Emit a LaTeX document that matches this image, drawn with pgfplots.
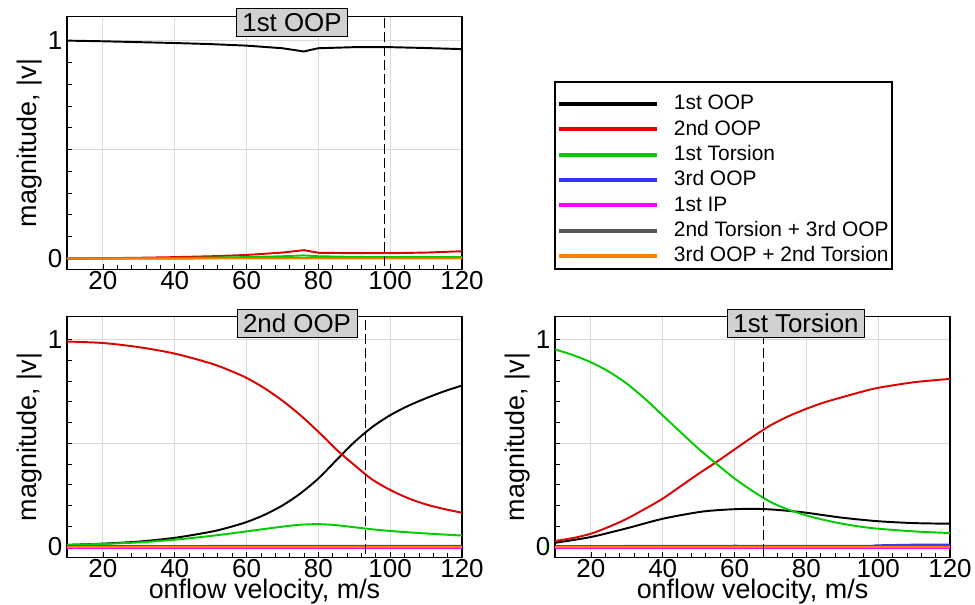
\documentclass[border=0pt]{standalone}
\usepackage{pgfplots}
\pgfplotsset{compat=1.18}
\usepackage{fontspec}
\setmainfont{Liberation Sans}
\definecolor{cred}{RGB}{220,0,0}
\definecolor{cgreen}{RGB}{0,204,0}
\definecolor{cblue}{RGB}{51,51,255}
\definecolor{cmag}{RGB}{255,0,255}
\definecolor{cgray}{RGB}{85,85,85}
\definecolor{corange}{RGB}{255,128,0}
\pgfplotsset{
  panel/.style={
    scale only axis, width=296.25pt,
    xmin=10, xmax=120, ymin=-0.05, ymax=1.11,
    xtick={20,40,...,120}, ytick={0,0.5,1}, yticklabels={0,,1},
    minor x tick num=4, minor y tick num=4,
    tick align=inside, tick pos=left,
    major tick length=4pt, minor tick length=3.5pt,
    every tick/.style={black, line width=0.6pt},
    grid=major, major grid style={draw=black!15, line width=0.8pt},
    axis line style={line width=0.8pt},
    tick label style={font=\fontsize{19.5}{22}\selectfont},
    label style={font=\fontsize{20.2}{23}\selectfont},
    /pgf/number format/assume math mode=true,
    xticklabel style={anchor=base, yshift=-15pt, inner ysep=0pt},
    ylabel={magnitude, |v|},
    ylabel style={at={([xshift=-23pt]axis description cs:0,0.5)}, anchor=base},
    xlabel style={at={([yshift=-31pt]axis description cs:0.5,0)}, anchor=base, inner ysep=0pt},
    every axis plot/.append style={line width=1.45pt},
  },
}
\tikzset{
  tbox/.style={draw=black, fill=black!18, line width=0.6pt, inner xsep=4.5pt, inner ysep=0pt,
    minimum height=21pt, text height=13.9pt, text depth=0pt, font=\fontsize{19.4}{22}\selectfont},
  vline/.style={black, line width=1pt, dash pattern=on 7.5pt off 3pt},
}
\begin{document}
\begin{tikzpicture}
\useasboundingbox (0,0) rectangle (731.25pt,-453.75pt);
% ---------------- top left: 1st OOP
\begin{axis}[panel, height=189.5pt, at={(50.25pt,-12.5pt)}, anchor=north west,
  legend cell align=left,
  legend image code/.code={\draw[#1, line width=3pt] (0pt,0pt) -- (73.5pt,0pt);},
  legend style={at={(1.2354,0.695)}, anchor=north west, draw=none, fill=none,
    font=\fontsize{15.7}{18}\selectfont, inner xsep=1.5pt, inner ysep=0pt,
    row sep=4pt, column sep=11pt,
    nodes={inner sep=0pt, text height=12pt, text depth=3pt}},
]
\addplot[black] coordinates {(10,1.0)(20,0.997)(30,0.993)(40,0.989)(50,0.984)(60,0.977)(70,0.965)(76,0.95)(78,0.958)(80,0.965)(90,0.97)(100,0.97)(110,0.966)(120,0.961)};
\addlegendentry{1st OOP}
\addplot[cred] coordinates {(10,0)(20,0.001)(30,0.003)(40,0.006)(50,0.01)(60,0.016)(70,0.027)(76,0.038)(78,0.032)(80,0.026)(90,0.024)(100,0.024)(110,0.027)(120,0.033)};
\addlegendentry{2nd OOP}
\addplot[cgreen] coordinates {(10,0)(40,0.002)(60,0.006)(70,0.01)(76,0.014)(80,0.01)(90,0.007)(100,0.006)(120,0.006)};
\addlegendentry{1st Torsion}
\addplot[cblue] coordinates {(10,0)(60,0.001)(120,0.001)};
\addlegendentry{3rd OOP}
\addplot[cmag] coordinates {(10,0)(60,0)(120,0)};
\addlegendentry{1st IP}
\addplot[cgray] coordinates {(10,0.001)(60,0.002)(120,0.002)};
\addlegendentry{2nd Torsion + 3rd OOP}
\addplot[corange] coordinates {(10,0)(60,0.001)(120,0.001)};
\addlegendentry{3rd OOP + 2nd Torsion}
\addplot[forget plot, vline] coordinates {(98.5,-0.1)(98.5,1.2)};
\end{axis}
% legend frame
\draw[black, line width=0.8pt] (416.25pt,-61.5pt) rectangle (669pt,-201.75pt);
% ---------------- bottom left: 2nd OOP
\begin{axis}[panel, height=180.5pt, at={(50.25pt,-237.5pt)}, anchor=north west,
  xlabel={onflow velocity, m/s}]
\addplot[black, smooth] coordinates {(10,0.01)(20,0.016)(30,0.026)(40,0.044)(50,0.073)(55,0.094)(60,0.12)(65,0.155)(70,0.2)(75,0.258)(80,0.33)(85,0.418)(90,0.505)(95,0.578)(100,0.635)(105,0.68)(110,0.717)(115,0.75)(120,0.778)};
\addplot[cred, smooth] coordinates {(10,0.99)(20,0.983)(30,0.963)(40,0.932)(50,0.885)(55,0.853)(60,0.815)(65,0.765)(70,0.705)(75,0.635)(80,0.555)(85,0.47)(90,0.395)(95,0.325)(100,0.275)(105,0.235)(110,0.205)(115,0.183)(120,0.165)};
\addplot[cgreen, smooth] coordinates {(10,0.01)(20,0.015)(30,0.022)(40,0.035)(50,0.053)(60,0.075)(70,0.098)(75,0.107)(80,0.11)(85,0.105)(90,0.095)(95,0.085)(100,0.077)(110,0.065)(120,0.055)};
\addplot[cblue] coordinates {(10,0)(60,0)(120,0)};
\addplot[cmag] coordinates {(10,-0.004)(60,-0.004)(120,-0.004)};
\addplot[cgray] coordinates {(10,0.004)(60,0.005)(120,0.005)};
\addplot[corange] coordinates {(10,0.002)(60,0.002)(120,0.002)};
\addplot[vline] coordinates {(93.2,-0.1)(93.2,1.2)};
\end{axis}
% ---------------- bottom right: 1st Torsion
\begin{axis}[panel, height=180.5pt, at={(416.25pt,-237.5pt)}, anchor=north west,
  xlabel={onflow velocity, m/s}]
\addplot[black, smooth] coordinates {(10,0.02)(20,0.048)(30,0.09)(40,0.136)(50,0.168)(55,0.177)(60,0.182)(65,0.184)(70,0.181)(75,0.174)(80,0.165)(90,0.141)(100,0.124)(110,0.115)(120,0.112)};
\addplot[cred, smooth] coordinates {(10,0.029)(15,0.043)(20,0.064)(25,0.097)(30,0.136)(35,0.183)(40,0.233)(45,0.293)(50,0.353)(55,0.41)(60,0.47)(65,0.53)(70,0.586)(75,0.63)(80,0.666)(85,0.697)(90,0.722)(95,0.746)(100,0.767)(110,0.794)(120,0.81)};
\addplot[cgreen, smooth] coordinates {(10,0.952)(15,0.925)(20,0.89)(25,0.845)(30,0.787)(35,0.715)(40,0.634)(45,0.553)(50,0.473)(55,0.40)(60,0.33)(65,0.27)(70,0.217)(75,0.18)(80,0.152)(85,0.13)(90,0.112)(95,0.098)(100,0.088)(110,0.075)(120,0.067)};
\addplot[cblue, smooth] coordinates {(10,0.001)(90,0.003)(100,0.008)(110,0.011)(120,0.012)};
\addplot[cmag] coordinates {(10,-0.004)(60,-0.004)(120,-0.004)};
\addplot[cgray] coordinates {(10,0.004)(60,0.006)(120,0.005)};
\addplot[corange] coordinates {(10,0.002)(60,0.002)(120,0.002)};
\addplot[vline] coordinates {(68,-0.1)(68,1.2)};
\end{axis}
% ---------------- panel titles
\node[tbox] at (219pt,-16.5pt) {1st OOP};
\node[tbox] at (222.75pt,-242.8pt) {2nd OOP};
\node[tbox] at (597pt,-242.8pt) {1st Torsion};
\end{tikzpicture}
\end{document}
